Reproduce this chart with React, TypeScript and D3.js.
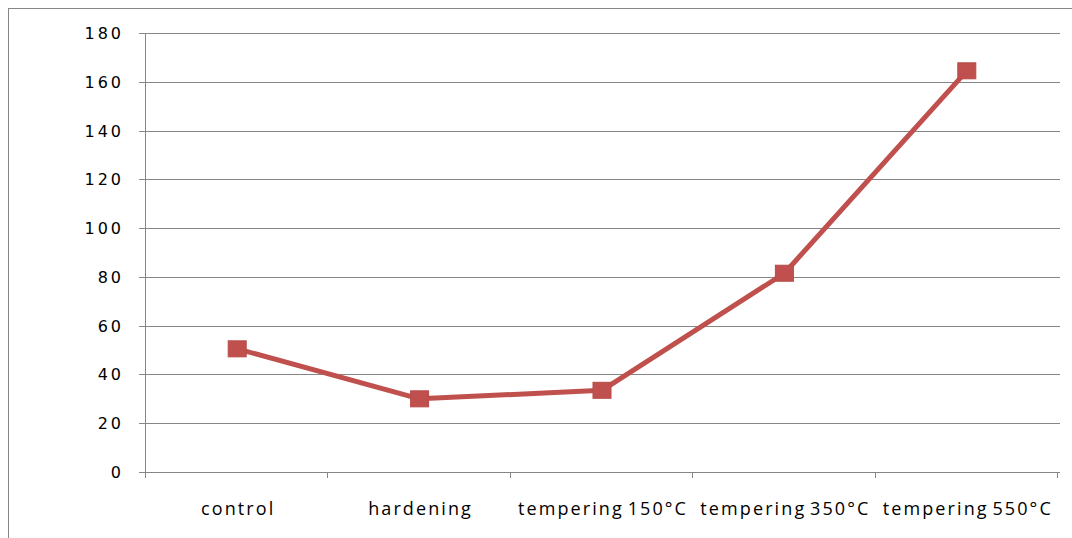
import React from "react";
import * as d3 from "d3";

const categories = ["control", "hardening", "tempering 150°C", "tempering 350°C", "tempering 550°C"];
const values = [50.5, 30, 33.5, 81.5, 164.5];
const yTicks = [0, 20, 40, 60, 80, 100, 120, 140, 160, 180];

export default function App() {
  const W = 1072, H = 538;
  const left = 146, right = 1058, top = 33, bottom = 472;
  const x = d3.scaleBand<string>().domain(categories).range([left, right]);
  const y = d3.scaleLinear().domain([0, 180]).range([bottom, top]);
  const line = d3
    .line<number>()
    .x((_, i) => (x(categories[i]) as number) + x.bandwidth() / 2)
    .y((d) => y(d));
  const axisColor = "#868686";
  const bounds = [...categories.map((c) => x(c) as number), right];
  return (
    <svg
      width={W}
      height={H}
      style={{ position: "absolute", left: 0, top: 0, background: "#fff" }}
    >
      <rect x={8.5} y={8.5} width={W + 10} height={H + 10} fill="#fff" stroke={axisColor} strokeWidth={1} />
      {yTicks.map((t) => (
        <g key={t}>
          <line x1={left - 7} x2={right + 2} y1={Math.round(y(t)) + 0.5} y2={Math.round(y(t)) + 0.5} stroke={axisColor} strokeWidth={1} />
          <text
            x={124}
            y={y(t) + 6}
            textAnchor="end"
            fontFamily="DejaVu Sans"
            fontSize={16}
            letterSpacing={3}
            fill="#000"
          >
            {t}
          </text>
        </g>
      ))}
      <line x1={left - 0.5} x2={left - 0.5} y1={top} y2={bottom + 6} stroke={axisColor} strokeWidth={1} />
      {bounds.map((b, i) => (
        <line key={i} x1={Math.round(b) - 0.5} x2={Math.round(b) - 0.5} y1={bottom} y2={bottom + 6} stroke={axisColor} strokeWidth={1} />
      ))}
      {categories.map((c) => (
        <text
          key={c}
          x={(x(c) as number) + x.bandwidth() / 2 + 1}
          y={515}
          textAnchor="middle"
          fontFamily="Open Sans"
          fontSize={18}
          letterSpacing={2.1}
          wordSpacing={-3}
          fill="#000"
        >
          {c}
        </text>
      ))}
      <path d={line(values) as string} fill="none" stroke="#C0504D" strokeWidth={5} strokeLinejoin="round" />
      {values.map((v, i) => (
        <rect
          key={i}
          x={(x(categories[i]) as number) + x.bandwidth() / 2 - 9}
          y={y(v) - 8}
          width={18}
          height={16}
          fill="#C0504D"
          stroke="#B84A47"
          strokeWidth={1}
        />
      ))}
    </svg>
  );
}
